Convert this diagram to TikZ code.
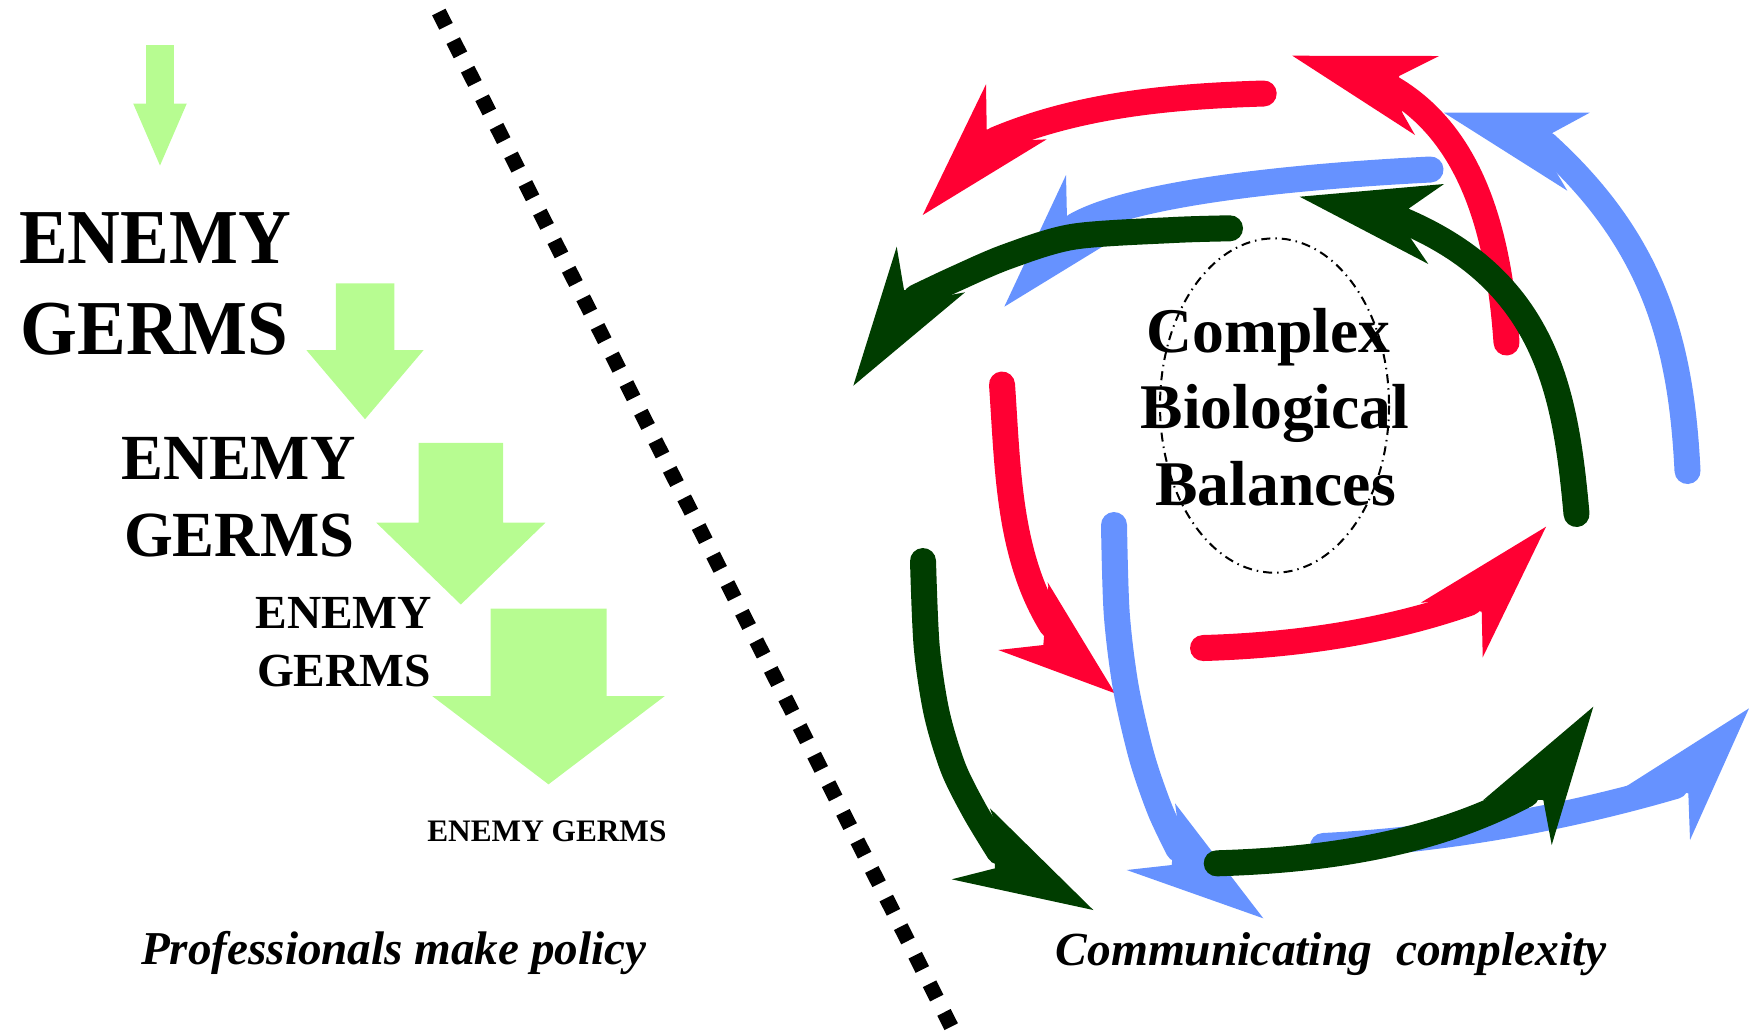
\documentclass[tikz,border=0pt]{standalone}
\usepackage{fontspec}
\setmainfont{Liberation Serif}
\newfontfamily\condA[FakeStretch=0.94]{Liberation Serif}
\newfontfamily\condB[FakeStretch=0.975]{Liberation Serif}
\definecolor{cred}{RGB}{255,0,51}
\definecolor{cblue}{RGB}{102,146,255}
\definecolor{cgreen}{RGB}{0,61,0}
\definecolor{lgreen}{RGB}{183,252,145}
\tikzset{
  shaft/.style={line width=0.26cm, line cap=round, line join=round},
  txt/.style={inner sep=0pt, anchor=base},
  divider/.style={line width=0.15cm, dash pattern=on 0.16cm off 0.16cm},
  balance/.style={line width=0.02cm, dash pattern=on 0.09cm off 0.05cm on 0.015cm off 0.05cm}
}
\begin{document}
\begin{tikzpicture}[x=0.01cm,y=-0.01cm]
\useasboundingbox (0,0) rectangle (1749,1032);

% ---- light green down arrows
\fill[lgreen] (146.2,45) -- (173.8,45) -- (173.8,103.5) -- (186.8,103.5) -- (160,165.5) -- (133.2,103.5) -- (146.2,103.5) -- cycle;
\fill[lgreen] (335.75,283.3) -- (394.25,283.3) -- (394.25,350.2) -- (423.5,350.2) -- (365,419.2) -- (306.5,350.2) -- (335.75,350.2) -- cycle;
\fill[lgreen] (418.7,442.8) -- (503,442.8) -- (503,522.7) -- (545.4,522.7) -- (460.8,604.5) -- (376.3,522.7) -- (418.7,522.7) -- cycle;
\fill[lgreen] (490.5,608.6) -- (606.5,608.6) -- (606.5,696) -- (664.8,696) -- (548.5,784.3) -- (432.2,696) -- (490.5,696) -- cycle;

% ---- left texts
\node[txt] (e1a) at (155,263.8) {\condA\bfseries\fontsize{22.1pt}{26pt}\selectfont ENEMY};
\node[txt] (e1b) at (154.5,354.2) {\condA\bfseries\fontsize{22.1pt}{26pt}\selectfont GERMS};
\node[txt] (e2a) at (238.7,479.6) {\condB\bfseries\fontsize{18.3pt}{22pt}\selectfont ENEMY};
\node[txt] (e2b) at (239.2,556) {\condB\bfseries\fontsize{18.3pt}{22pt}\selectfont GERMS};
\node[txt] (e3a) at (343.7,628.3) {\bfseries\fontsize{13.5pt}{16pt}\selectfont ENEMY};
\node[txt] (e3b) at (344.1,686.6) {\bfseries\fontsize{13.5pt}{16pt}\selectfont GERMS};
\node[txt] (e4) at (546.9,841) {\bfseries\fontsize{8.9pt}{11pt}\selectfont ENEMY GERMS};
\node[txt] (prof) at (393.7,964.8) {\bfseries\itshape\fontsize{13.4pt}{16pt}\selectfont Professionals make policy};

% ---- divider
\draw[divider] (438.8,12) -- (953.9,1032);

% ---- red arrows
\draw[shaft, cred] (1263.7,93.5) .. controls (1172.7,96.2) and (1078.7,104.5) .. (995,140);
\fill[cred] (922.7,215) -- (986,84.3) -- (986.7,129.3) -- (1031.7,140) -- (1046.7,139.3) -- cycle;
\draw[shaft, cred] (1506.5,342.5) .. controls (1499.6,244.5) and (1477,138.8) .. (1392.7,88.8);
\fill[cred] (1292.3,55.7) -- (1439,56) -- (1399,76) -- (1402.3,112.7) -- (1415,135) -- cycle;
\draw[shaft, cred] (1002,384.5) .. controls (1007.8,467.5) and (1008,555.1) .. (1052,625.7);
\fill[cred] (1115,693.3) -- (998.3,650) -- (1043.3,645) -- (1048.3,586) -- (1047.5,582) -- cycle;
\draw[shaft, cred] (1203,648) .. controls (1293,645.5) and (1384.6,632.4) .. (1469.6,602.7);
\fill[cred] (1546,526.7) -- (1420.7,602.7) -- (1435,601.7) -- (1481.7,611.7) -- (1482.7,657.3) -- cycle;

% ---- blue arrows
\draw[shaft, cblue] (1430.5,169.5) .. controls (1310.5,175.5) and (1135.9,191) .. (1075,226);
\fill[cblue] (1004.3,306.7) -- (1066,175) -- (1067,220) -- (1112,231) -- (1128,231) -- cycle;
\draw[shaft, cblue] (1687.5,471) .. controls (1681.3,347.4) and (1656.4,244.6) .. (1545.4,144.1);
\fill[cblue] (1444,112.7) -- (1589.7,112.7) -- (1551.7,133.3) -- (1554,168.3) -- (1567.3,190.7) -- cycle;
\draw[shaft, cblue] plot[smooth] coordinates {(1114,525) (1116.7,613.3) (1125.7,686.7) (1141.7,756.7) (1160,810) (1178.5,849)};
\fill[cblue] (1263.3,918.3) -- (1126.7,870) -- (1171.7,865) -- (1176.7,815) -- (1175,803.3) -- cycle;
\draw[shaft, cblue] (1323,846) .. controls (1442,840) and (1561.2,819.2) .. (1675.4,785.9);
\fill[cblue] (1749,708.3) -- (1626.7,786) -- (1643.3,784) -- (1688.3,793.3) -- (1690,840) -- cycle;

% ---- green arrows
\draw[shaft, cgreen] plot[smooth] coordinates {(1230,228.3) (1173.3,230) (1073.3,236.7) (1006.7,256.7) (955,279) (916,297.4)};
\fill[cgreen] (853.3,385.7) -- (896.7,246.7) -- (904,290) -- (950,295) -- (965,292.3) -- cycle;
\draw[shaft, cgreen] (1576.5,514) .. controls (1565.4,390.2) and (1546,279.5) .. (1398.8,218.7);
\fill[cgreen] (1299.7,196.7) -- (1444,184) -- (1409,208.3) -- (1410.7,238.3) -- (1428.3,264) -- cycle;
\draw[shaft, cgreen] plot[smooth] coordinates {(923,561) (926.7,646.7) (936.7,713.3) (953.3,768.3) (975,811.7) (999.2,851.6)};
\fill[cgreen] (1093.3,910) -- (951.7,879.3) -- (995,868.3) -- (993.3,818.3) -- (990,808.3) -- cycle;
\draw[shaft, cgreen] (1216.7,863.3) .. controls (1323.7,860.1) and (1432.1,844.6) .. (1526.3,794.3);
\fill[cgreen] (1593.3,706.7) -- (1483.3,800) -- (1491.7,798.3) -- (1543.3,800) -- (1551.7,845) -- cycle;

% ---- centre
\node[txt] (c1) at (1268.4,352.9) {\bfseries\fontsize{18.1pt}{22pt}\selectfont Complex};
\node[txt] (c2) at (1275,428.3) {\bfseries\fontsize{18.1pt}{22pt}\selectfont Biological};
\node[txt] (c3) at (1275.5,505.3) {\bfseries\fontsize{18.1pt}{22pt}\selectfont Balances};
\draw[balance] (1274.5,405.5) ellipse [x radius=114.5, y radius=167.2];

\node[txt] (comm) at (1331.3,965.7) {\bfseries\itshape\fontsize{13.5pt}{16pt}\selectfont Communicating~ complexity};
\end{tikzpicture}
\end{document}
